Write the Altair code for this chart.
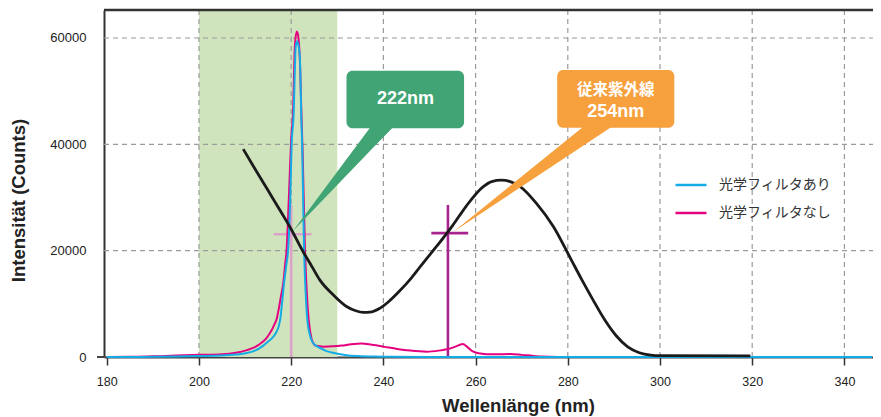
import altair as alt
import pandas as pd

# ---------------- data ----------------
wl_cyan = [180, 185, 190, 195, 200, 205, 208, 210.4, 212, 213.9, 215, 216, 216.8, 217.3, 217.7,
           218.0, 218.4, 218.9, 219.4, 219.8, 220.1, 220.5, 221.0, 221.3, 221.6, 221.9, 222.2,
           222.4, 222.8, 223.2, 223.5, 224.1, 224.5, 225.0, 225.4, 226.5, 227.4, 228.8, 230.3,
           232, 234.6, 238, 242, 250, 260, 346]
val_cyan = [0, 10, 40, 90, 170, 260, 450, 750, 1150, 2100, 2900, 3700, 4700, 5800, 7500,
            10000, 13500, 17000, 21000, 30000, 40000, 45000, 58500, 59400, 58500, 56000, 45000,
            39000, 20000, 11000, 7000, 4000, 3000, 2400, 2100, 1600, 1200, 850, 560,
            350, 190, 90, 40, 10, 0, 0]

wl_mag = [180, 185, 190, 195, 200, 205, 208, 210.4, 212, 213.2, 214.5, 215.4, 216.3, 216.9, 217.4,
          217.8, 218.3, 218.7, 219.0, 219.5, 220.0, 220.4, 220.8, 221.2, 221.5, 221.85, 222.25,
          222.5, 223.0, 223.4, 223.8, 224.4, 224.8, 225.4, 227, 229, 231, 233, 235.3, 237.5, 240,
          243, 245.8, 249.4, 252, 253.7, 255.5, 257.2, 258.3, 259.5, 261, 262.4, 265, 267.5,
          270, 272.5, 276, 280, 346]
val_mag = [0, 30, 120, 300, 400, 520, 800, 1300, 1800, 2450, 3400, 4500, 6000, 7300, 9500,
           11500, 14000, 17500, 20000, 30000, 41000, 46000, 58500, 61200, 60500, 56500, 45000,
           38000, 20000, 12000, 7000, 3500, 2600, 2100, 1950, 2000, 2150, 2400, 2550, 2300, 1950,
           1500, 1200, 1000, 1200, 1450, 1900, 2450, 1800, 1000, 650, 500, 520, 550,
           400, 200, 60, 0, 0]

wl_black = [209.6, 212, 215, 218, 219.7, 222.6, 224.5, 226.2, 229.1, 232, 234, 235.6, 237.5, 239.3,
            241, 243.5, 246, 248, 250.7, 253, 255, 257.9, 261.6, 263.5, 265.6, 267.5, 269.6,
            273.2, 276.9, 280.5, 283, 285.5, 288, 290.5, 293, 295.5, 298, 300, 319.6]
val_black = [39100, 35600, 31300, 27000, 24500, 19800, 17000, 14500, 11700, 9500, 8700, 8400, 8500, 9200,
             10300, 12400, 14800, 17000, 19900, 22400, 24700, 28300, 32000, 33000, 33250, 33000, 32100,
             28900, 24500, 18700, 14600, 10700, 7000, 4000, 1900, 800, 350, 250, 200]

series_names = ["光学フィルタあり", "光学フィルタなし"]
series_colors = ["#13ace6", "#e5007f"]

x_ticks = [180, 200, 220, 240, 260, 280, 300, 320, 340]
y_ticks = [0, 20000, 40000, 60000]
x_grid = [200, 220, 240, 260, 280, 300, 320, 340]
y_grid = [20000, 40000, 60000]

band_from, band_to = 200, 230

# crosshairs: centre wavelength, vertical top, horizontal from/to, level
cross_x = [220, 254]
cross_top = [28600, 28600]
cross_h_from = [216.2, 250.4]
cross_h_to = [224.4, 258.4]
cross_level = [23100, 23300]
cross_colors = ["#dba3c8", "#a6248f"]

# callouts (data coordinates)
call_names = ["green", "orange"]
call_x0 = [232.0, 277.7]
call_x1 = [257.5, 303.1]
call_y0 = [43000, 43100]
call_y1 = [53850, 53980]
call_base_a = [237.5, 283.9]
call_base_b = [242.5, 290.2]
call_tip_x = [220.4, 255.2]
call_tip_y = [23700, 23560]
call_colors = ["#41a474", "#f7a03e"]

latin_x = [244.8, 290.4]
latin_y = [48500, 46150]
latin_str = ["222nm", "254nm"]
jp_x = [290.4]
jp_y = [50150]
jp_str = ["従来紫外線"]

# ---------------- chart ----------------
W, H = 769, 347
XMIN, XMAX = 179.4, 346.2
YMAX = 65262
xs = alt.Scale(domain=[XMIN, XMAX], nice=False, zero=False)
ys = alt.Scale(domain=[0, YMAX], nice=False, zero=False)

FONT = "Liberation Sans"
JP = "Noto Sans CJK JP"

x_axis = alt.Axis(values=x_ticks, format="d", title="Wellenlänge (nm)", titleFont=FONT,
                  titleFontSize=18.5, titleFontWeight="bold", titleColor="#222",
                  titleX=414, titleY=54, titleBaseline="alphabetic",
                  labelFont=FONT, labelFontSize=12.5, labelColor="#222", labelPadding=10,
                  tickSize=8, tickColor="#333", tickWidth=1.5, domainColor="#444",
                  domainWidth=2, grid=False, labelFlush=False)
y_axis = alt.Axis(values=y_ticks, format="d", title="Intensität (Counts)", titleFont=FONT,
                  titleFontSize=18.5, titleFontWeight="bold", titleColor="#222",
                  titleAngle=270, titleX=-80, titleY=190, titleBaseline="alphabetic",
                  titleAlign="center",
                  labelFont=FONT, labelFontSize=13, labelColor="#222", labelPadding=18,
                  ticks=False, domainColor="#333", domainWidth=2, grid=False)

band = alt.Chart(pd.DataFrame({"a": [band_from], "b": [band_to]})).mark_rect(
    fill="#cfe4bd").encode(
    x=alt.X("a:Q", scale=xs, axis=x_axis), x2="b:Q",
    y=alt.value(0), y2=alt.value(H))

vgrid = alt.Chart(pd.DataFrame({"g": x_grid})).mark_rule(
    stroke="#9a9a9a", strokeWidth=1.2, strokeDash=[5, 4]).encode(
    x=alt.X("g:Q", scale=xs, axis=x_axis), y=alt.value(0), y2=alt.value(H))
hgrid = alt.Chart(pd.DataFrame({"g": y_grid})).mark_rule(
    stroke="#9a9a9a", strokeWidth=1.2, strokeDash=[5, 4]).encode(
    y=alt.Y("g:Q", scale=ys, axis=y_axis), x=alt.value(0), x2=alt.value(W))

cross = pd.DataFrame({"x": cross_x, "top": cross_top, "h0": cross_h_from, "h1": cross_h_to,
                      "lev": cross_level, "c": cross_colors, "zero": [0, 0]})
cross_v = alt.Chart(cross).mark_rule(strokeWidth=2.6).encode(
    x=alt.X("x:Q", scale=xs, axis=x_axis), y=alt.Y("zero:Q", scale=ys, axis=y_axis), y2="top:Q",
    stroke=alt.Stroke("c:N", scale=None, legend=None))
cross_h = alt.Chart(cross).mark_rule(strokeWidth=2.6).encode(
    x=alt.X("h0:Q", scale=xs, axis=x_axis), x2="h1:Q", y=alt.Y("lev:Q", scale=ys, axis=y_axis),
    stroke=alt.Stroke("c:N", scale=None, legend=None))

spec = pd.concat([
    pd.DataFrame({"wl": wl_cyan, "v": val_cyan, "s": series_names[0]}),
    pd.DataFrame({"wl": wl_mag, "v": val_mag, "s": series_names[1]}),
])
legend = alt.Legend(title=None, orient="none", legendX=570, legendY=158, symbolType="stroke",
                    symbolSize=961, symbolStrokeWidth=2.5, labelFont=JP, labelFontSize=14,
                    labelColor="#333", labelOffset=11, rowPadding=4, padding=0)
color = alt.Color("s:N", scale=alt.Scale(domain=series_names, range=series_colors), legend=legend)


def spectrum(name):
    return alt.Chart(spec).transform_filter(alt.datum.s == name).mark_line(
        strokeWidth=2, interpolate="monotone").encode(
        x=alt.X("wl:Q", scale=xs, axis=x_axis), y=alt.Y("v:Q", scale=ys, axis=y_axis),
        color=color, order="wl:Q")


black = alt.Chart(pd.DataFrame({"wl": wl_black, "v": val_black})).mark_line(
    stroke="#1b1b1b", strokeWidth=2.8, interpolate="monotone").encode(
    x=alt.X("wl:Q", scale=xs, axis=x_axis), y=alt.Y("v:Q", scale=ys, axis=y_axis))

calls = pd.DataFrame({"n": call_names, "x0": call_x0, "x1": call_x1, "y0": call_y0,
                      "y1": call_y1, "c": call_colors})
boxes = alt.Chart(calls).mark_rect(cornerRadius=6).encode(
    x=alt.X("x0:Q", scale=xs, axis=x_axis), x2="x1:Q",
    y=alt.Y("y0:Q", scale=ys, axis=y_axis), y2="y1:Q",
    fill=alt.Fill("c:N", scale=None, legend=None))

# pointer triangles built as areas: tip -> base corner a -> base corner b
rows = []
for i in range(len(call_names)):
    base = call_y0[i] + 600
    tx, ty = call_tip_x[i], call_tip_y[i]
    xa, xb = call_base_a[i], call_base_b[i]
    lower_a = ty + (base - ty) * (xa - tx) / (xb - tx)
    rows += [
        {"n": call_names[i], "x": tx, "y": ty, "y2": ty, "c": call_colors[i]},
        {"n": call_names[i], "x": xa, "y": base, "y2": lower_a, "c": call_colors[i]},
        {"n": call_names[i], "x": xb, "y": base, "y2": base, "c": call_colors[i]},
    ]
tri = pd.DataFrame(rows)


def pointer(name):
    return alt.Chart(tri).transform_filter(alt.datum.n == name).mark_area(
        interpolate="linear", orient="vertical").encode(
        x=alt.X("x:Q", scale=xs, axis=x_axis), y=alt.Y("y:Q", scale=ys, axis=y_axis), y2="y2:Q",
        fill=alt.Fill("c:N", scale=None, legend=None))


latin = alt.Chart(pd.DataFrame({"x": latin_x, "y": latin_y, "t": latin_str})).mark_text(
    fill="white", fontWeight="bold", font=FONT, fontSize=18, baseline="middle", align="center").encode(
    x=alt.X("x:Q", scale=xs, axis=x_axis), y=alt.Y("y:Q", scale=ys, axis=y_axis), text="t:N")
jp = alt.Chart(pd.DataFrame({"x": jp_x, "y": jp_y, "t": jp_str})).mark_text(
    fill="white", fontWeight="bold", font=JP, fontSize=15.5, baseline="middle", align="center").encode(
    x=alt.X("x:Q", scale=xs, axis=x_axis), y=alt.Y("y:Q", scale=ys, axis=y_axis), text="t:N")

top_border = alt.Chart(pd.DataFrame({"k": [0]})).mark_rule(stroke="#333", strokeWidth=2.5).encode(
    x=alt.value(0), x2=alt.value(W), y=alt.value(0))
axis_ext = alt.Chart(pd.DataFrame({"k": [0]})).mark_rule(stroke="#444", strokeWidth=2).encode(
    x=alt.value(-7), x2=alt.value(0), y=alt.value(H))

chart = alt.layer(
    band, vgrid, hgrid, cross_v, cross_h,
    spectrum(series_names[1]), spectrum(series_names[0]), black,
    boxes, pointer("green"), pointer("orange"), latin, jp, top_border, axis_ext
).properties(
    width=W, height=H,
    padding={"left": 96, "top": 2, "right": 0, "bottom": 60},
    autosize=alt.AutoSizeParams(type="none"),
).configure_view(stroke=None).configure(background="white")

chart.save("out.html", embed_options={"renderer": "svg", "actions": False})
